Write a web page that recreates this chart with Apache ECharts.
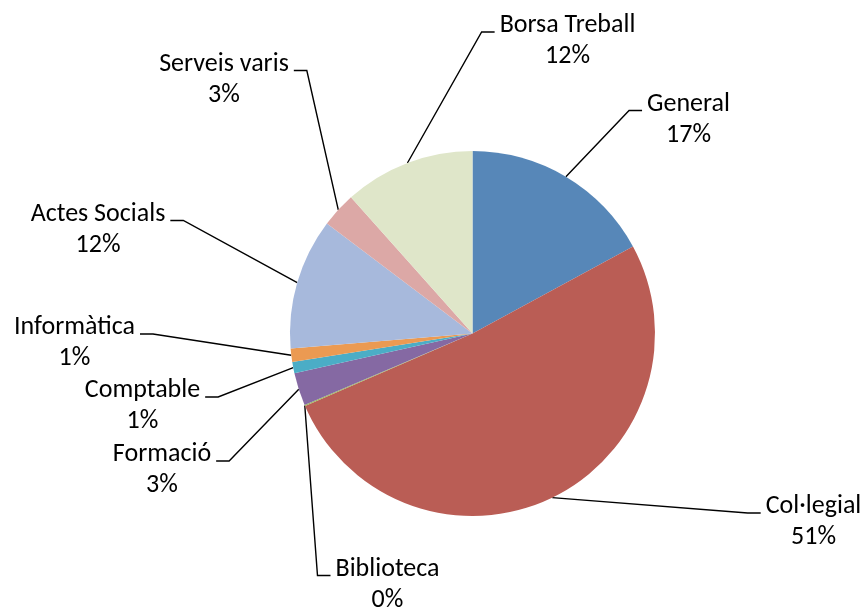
<!DOCTYPE html>
<html>
<head>
<meta charset="utf-8">
<script src="https://cdn.jsdelivr.net/npm/echarts@6/dist/echarts.min.js"></script>
<style>
    html, body {margin: 0; padding: 0; background: #fff;}
    #main {width: 866px; height: 612px;}
</style>
</head>
<body>
<div id="main"></div>
<script>
var categories = ['General', 'Col·legial', 'Biblioteca', 'Formació', 'Comptable', 'Informàtica', 'Actes Socials', 'Serveis varis', 'Borsa Treball'];
var shares     = [17.1, 51.4, 0.1, 2.9, 1.0, 1.2, 11.6, 3.1, 11.6];
var sliceColors = ['#5787b8', '#ba5d55', '#9bbb59', '#8569a3', '#4badc6', '#eb9a52', '#a7b9dc', '#dca8a6', '#dfe6c9'];

// where each label sits: [text centre x, first line centre y]
var labelSpots = [
    [688.5, 103.5], [813.5, 506], [387.5, 568.5], [162, 454], [142.5, 390],
    [74.5, 327], [98, 213.5], [224, 63.5], [567.5, 25]
];

function drawSharePie(id)
{
    var data = [];
    for(var i = 0; i < categories.length; i++)
    {
        data.push({name: categories[i], value: shares[i], itemStyle: {color: sliceColors[i]}});
    }

    var chart  = echarts.init(document.getElementById(id));
    var option = {
        animation: false,
        series: [
            {
                type: 'pie',
                center: [472.5, 333.5],
                radius: 182.5,
                startAngle: 90,
                clockwise: true,
                avoidLabelOverlap: false,
                percentPrecision: 0,
                label: {
                    show: true,
                    position: 'outside',
                    formatter: '{b}\n{d}%',
                    color: '#000',
                    fontFamily: 'Calibri, Carlito, Lato',
                    fontSize: 26,
                    lineHeight: 31,
                    align: 'center'
                },
                labelLine: {
                    show: true,
                    smooth: false,
                    lineStyle: {color: '#000', width: 1.4}
                },
                labelLayout: function(params)
                {
                    var spot   = labelSpots[params.dataIndex];
                    var w      = params.labelRect.width;
                    var anchor = params.labelLinePoints ? params.labelLinePoints[0] : spot;
                    var lineY  = spot[1] + 7;
                    var points;
                    if(anchor[0] < spot[0] - w / 2)
                    {
                        var end = spot[0] - w / 2 - 5;
                        points = [anchor, [end - 13, lineY], [end, lineY]];
                    }
                    else
                    {
                        var start = spot[0] + w / 2 + 5;
                        points = [anchor, [start + 13, lineY], [start, lineY]];
                    }
                    return {
                        x: spot[0],
                        y: spot[1] - 15,
                        align: 'center',
                        verticalAlign: 'top',
                        labelLinePoints: points
                    };
                },
                data: data
            }
        ]
    };
    chart.setOption(option);
    return chart;
}

drawSharePie('main');
</script>
</body>
</html>
